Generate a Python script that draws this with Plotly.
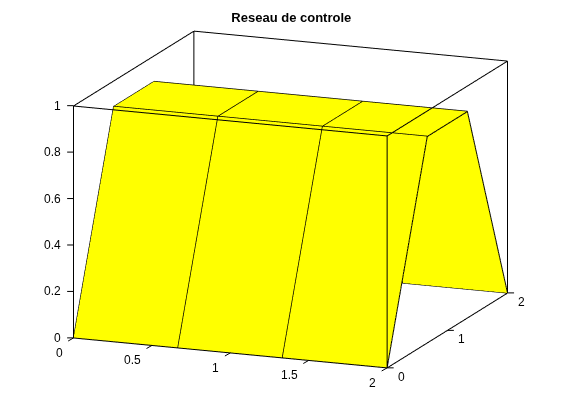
import plotly.graph_objects as go
import numpy as np

x_grid = [0, 2/3, 4/3, 2]
y_grid = [0, 2/3, 4/3, 2]
z_profile = [0, 0.89, 0.89, 0]
title_text = "Reseau de controle"
x_ticks = [0, 0.5, 1, 1.5, 2]
y_ticks = [0, 1, 2]
z_ticks = [0, 0.2, 0.4, 0.6, 0.8, 1]
x_range = [0, 2]
y_range = [0, 2]
z_range = [0, 1]

z = [[v for _ in x_grid] for v in z_profile]

fig = go.Figure()
fig.add_trace(go.Surface(x=x_grid, y=y_grid, z=z, showscale=False,
    colorscale=[[0, "#ffff00"], [1, "#ffff00"]], cmin=0, cmax=1,
    lighting=dict(ambient=1, diffuse=0, specular=0, fresnel=0, roughness=1),
    hoverinfo="skip"))

def add_line(xs, ys, zs, w=2):
    fig.add_trace(go.Scatter3d(x=xs, y=ys, z=zs, mode="lines",
        line=dict(color="black", width=w), showlegend=False, hoverinfo="skip"))

for i, xv in enumerate(x_grid):
    add_line([xv]*4, y_grid, z_profile, 2 if i in (0, 3) else 3)
for i, (yv, zv) in enumerate(zip(y_grid, z_profile)):
    add_line(x_grid, [yv]*4, [zv]*4, 2 if i in (0, 3) else 3)

# bounding box, from the axis ranges
x0, x1 = x_range; y0, y1 = y_range; z0, z1 = z_range
for a in (y0, y1):
    for b in (z0, z1):
        add_line([x0, x1], [a, a], [b, b])
for a in (x0, x1):
    for b in (z0, z1):
        add_line([a, a], [y0, y1], [b, b])
for a in (x0, x1):
    for b in (y0, y1):
        add_line([a, a], [b, b], [z0, z1])

font = dict(family="Liberation Sans", size=12, color="black")
def axis(rng):
    return dict(range=rng, showgrid=False, zeroline=False, showbackground=False,
        showline=False, ticks="", showticklabels=False, title=dict(text=""), showspikes=False)

# tick marks and labels, anchored to the data positions on the box edges
annotations = []
def tick(px_, py_, pz_, label, ax, ay, xanchor, xshift, yshift):
    annotations.append(dict(x=px_, y=py_, z=pz_, text=" ", showarrow=True, arrowhead=0,
        arrowwidth=1, arrowcolor="black", ax=ax, ay=ay, standoff=0, font=dict(size=1)))
    annotations.append(dict(x=px_, y=py_, z=pz_, text=label, showarrow=False, font=font,
        xanchor=xanchor, yanchor="middle", xshift=xshift, yshift=yshift))

for v in x_ticks:
    tick(v, y0, z0, str(v), -7, 4, "right", -9, -15)
for v in y_ticks:
    tick(x1, v, z0, str(v), 8, 0, "center", 14, -9)
for v in z_ticks:
    tick(x0, y0, v, str(v), -8, 0, "right", -11, 0)

t = np.radians(21.4); e = np.radians(14.1); r = 4.0
k = 1.697
right = np.array([np.cos(t), np.sin(t), 0.0])
up = np.array([-np.sin(t)*np.sin(e), np.cos(t)*np.sin(e), np.cos(e)])
view = np.array([np.sin(t)*np.cos(e), -np.cos(t)*np.cos(e), np.sin(e)])
px = 198.7
center = (8/px)*right - (24/px)*up
eye = center + r*view
fig.update_layout(
    width=561, height=414, autosize=False, paper_bgcolor="white",
    margin=dict(l=0, r=0, t=0, b=0), showlegend=False,
    title=dict(text="<b>"+title_text+"</b>", x=0.505, xanchor="center", y=0.977, yanchor="middle",
        font=dict(family="Liberation Sans", size=13, color="black")),
    scene=dict(
        domain=dict(x=[0.036, 1], y=[0, 0.96]),
        xaxis=axis(x_range), yaxis=axis(y_range), zaxis=axis(z_range),
        annotations=annotations,
        aspectmode="manual", aspectratio=dict(x=k, y=0.98*k, z=0.71*k),
        camera=dict(projection=dict(type="orthographic"), up=dict(x=0, y=0, z=1),
            center=dict(x=center[0], y=center[1], z=center[2]),
            eye=dict(x=eye[0], y=eye[1], z=eye[2])),
    ))
fig.write_html("out.html")
